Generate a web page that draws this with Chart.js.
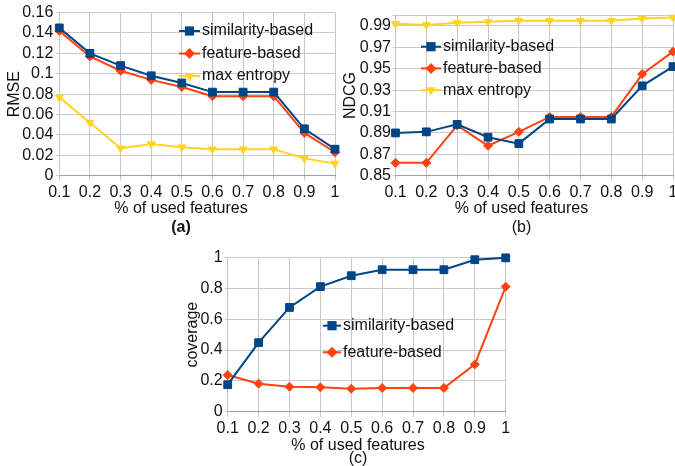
<!DOCTYPE html>
<html>
<head>
<meta charset="utf-8">
<script src="https://cdn.jsdelivr.net/npm/chart.js"></script>
<style>
html,body{margin:0;padding:0;background:#fff;}
body{width:675px;height:466px;overflow:hidden;position:relative;}
canvas{position:absolute;}
#chartA{left:0;top:0;}
#chartB{left:340px;top:0;}
#chartC{left:170px;top:240px;}
</style>
</head>
<body>
<canvas id="chartA" width="362" height="240"></canvas>
<canvas id="chartB" width="363" height="240"></canvas>
<canvas id="chartC" width="376" height="226"></canvas>
<script>
// ================= Data =================
const xLabels=['0.1','0.2','0.3','0.4','0.5','0.6','0.7','0.8','0.9','1'];

const rmseSimilarity=[0.145,0.120,0.108,0.098,0.091,0.082,0.082,0.082,0.046,0.026];
const rmseFeature=[0.142,0.117,0.103,0.094,0.087,0.078,0.078,0.078,0.042,0.023];
const rmseMaxEntropy=[0.077,0.052,0.027,0.031,0.028,0.026,0.026,0.026,0.017,0.012];
const rmseTicks=[0,0.02,0.04,0.06,0.08,0.1,0.12,0.14,0.16];

const ndcgSimilarity=[0.890,0.891,0.898,0.886,0.880,0.903,0.903,0.903,0.934,0.952];
const ndcgFeature=[0.862,0.862,0.897,0.878,0.891,0.905,0.905,0.905,0.945,0.966];
const ndcgMaxEntropy=[0.992,0.991,0.993,0.994,0.995,0.995,0.995,0.995,0.997,0.998];
const ndcgTicks=[0.85,0.87,0.89,0.91,0.93,0.95,0.97,0.99];
const ndcgMax=1.0;

const coverageSimilarity=[0.175,0.448,0.677,0.812,0.883,0.922,0.922,0.922,0.987,0.999];
const coverageFeature=[0.238,0.182,0.162,0.158,0.149,0.154,0.154,0.154,0.307,0.812];
const coverageTicks=[0,0.2,0.4,0.6,0.8,1];

// ================= Styles =================
const BLUE='#004586', ORANGE='#ff420e', YELLOW='#ffd320';
const GRID='#c8c8c8', AXIS='#a0a0a0', TEXT='#111';

Chart.defaults.font.family='"Liberation Sans", Arial, sans-serif';
Chart.defaults.font.size=16;
Chart.defaults.color=TEXT;

function series(label,data,color,style){
    const ds={label:label,data:data,borderColor:color,backgroundColor:color,borderWidth:2,
        pointBackgroundColor:color,pointBorderColor:color,pointBorderWidth:1,
        pointStyle:style,pointRadius:5,tension:0,clip:false};
    if(style==='rect') ds.pointRadius=5.5;
    if(style==='rectRot') ds.pointRadius=4.5;
    if(style==='triangle'){ ds.pointRadius=4.5; ds.pointRotation=180; }
    return ds;
}

// draw a marker like the dataset points (used by the legend)
function drawMark(ctx,style,x,y,r){
    ctx.beginPath();
    if(style==='rect'){ const s=r*Math.SQRT1_2; ctx.rect(x-s,y-s,2*s,2*s); }
    else if(style==='rectRot'){ ctx.moveTo(x,y-r); ctx.lineTo(x+r,y); ctx.lineTo(x,y+r); ctx.lineTo(x-r,y); ctx.closePath(); }
    else { const h=r*Math.sin(Math.PI/3); ctx.moveTo(x,y+r); ctx.lineTo(x+h,y-r/2); ctx.lineTo(x-h,y-r/2); ctx.closePath(); }
    ctx.fill();
}

// legend placed inside the plot, like the spreadsheet one
const boxLegend={
    id:'boxLegend',
    afterDatasetsDraw(chart,args,opts){
        const ctx=chart.ctx;
        ctx.save();
        chart.data.datasets.forEach((ds,i)=>{
            const y=opts.y+i*opts.dy;
            ctx.strokeStyle=ds.borderColor; ctx.lineWidth=ds.borderWidth;
            ctx.beginPath(); ctx.moveTo(opts.x,y); ctx.lineTo(opts.x+opts.len,y); ctx.stroke();
            ctx.fillStyle=ds.borderColor;
            drawMark(ctx,ds.pointStyle,opts.x+opts.len/2,y,ds.pointRadius+1);
            ctx.fillStyle=TEXT; ctx.font='16px "Liberation Sans", Arial, sans-serif';
            ctx.textBaseline='middle'; ctx.textAlign='left';
            ctx.fillText(ds.label,opts.x+opts.len+2,y);
        });
        ctx.restore();
    }
};

function fmt(v){ return String(+v.toFixed(4)); }

function makeChart(id,cfg){
    return new Chart(document.getElementById(id),{
        type:'line',
        data:{labels:xLabels,datasets:cfg.datasets},
        plugins:[boxLegend],
        options:{
            responsive:false,animation:false,devicePixelRatio:1,
            layout:{padding:{top:cfg.padTop,bottom:cfg.padBottom,left:0,right:0}},
            scales:{
                x:{type:'category',offset:false,
                    grid:{color:GRID,tickLength:5,tickColor:GRID},
                    border:{color:AXIS},
                    ticks:{padding:cfg.xPad,maxRotation:0,autoSkip:false},
                    afterFit:s=>{s.height=cfg.xHeight;}},
                y:{type:'linear',min:cfg.min,max:cfg.max,
                    grid:{color:GRID,tickLength:3,tickColor:GRID},
                    border:{color:GRID},
                    ticks:{padding:cfg.yPad,autoSkip:false,
                        callback:v=>cfg.ticks.some(t=>Math.abs(t-v)<1e-9)?fmt(v):''},
                    afterBuildTicks:s=>{
                        const t=cfg.ticks.slice();
                        if(t[t.length-1]<cfg.max) t.push(cfg.max);
                        s.ticks=t.map(v=>({value:v}));
                    },
                    title:{display:true,text:cfg.yTitle,padding:{top:cfg.yTitlePad,bottom:0}},
                    afterFit:s=>{s.width=cfg.yWidth;}},
                yR:{type:'linear',position:'right',display:true,
                    grid:{display:false,drawTicks:false},border:{display:false},ticks:{display:false},
                    afterFit:s=>{s.width=cfg.rightWidth;}}
            },
            plugins:{
                legend:{display:false},
                tooltip:{enabled:false},
                subtitle:{display:true,position:'bottom',text:'% of used features',color:TEXT,
                    font:{size:16,lineHeight:cfg.lh},padding:0},
                title:{display:true,position:'bottom',text:cfg.tag,color:TEXT,
                    font:{size:16,weight:cfg.tagWeight,lineHeight:cfg.lh},padding:0},
                boxLegend:cfg.legend
            }
        }
    });
}

// ================= (a) RMSE =================
makeChart('chartA',{
    datasets:[series('similarity-based',rmseSimilarity,BLUE,'rect'),
              series('feature-based',rmseFeature,ORANGE,'rectRot'),
              series('max entropy',rmseMaxEntropy,YELLOW,'triangle')],
    min:0,max:0.16,ticks:rmseTicks,yTitle:'RMSE',yTitlePad:5,yWidth:59.3,yPad:3,rightWidth:27,
    padTop:12.3,padBottom:2.9,xHeight:23,xPad:2,lh:1.2,tag:'(a)',tagWeight:'bold',
    legend:{x:179,y:31,dy:22.5,len:21}
});

// ================= (b) NDCG =================
makeChart('chartB',{
    datasets:[series('similarity-based',ndcgSimilarity,BLUE,'rect'),
              series('feature-based',ndcgFeature,ORANGE,'rectRot'),
              series('max entropy',ndcgMaxEntropy,YELLOW,'triangle')],
    min:0.85,max:ndcgMax,ticks:ndcgTicks,yTitle:'NDCG',yTitlePad:1.4,yWidth:55.5,yPad:1.5,rightWidth:30,
    padTop:15.3,padBottom:2.9,xHeight:23,xPad:2,lh:1.2,tag:'(b)',tagWeight:'normal',
    legend:{x:81,y:46.7,dy:21.7,len:20}
});

// ================= (c) coverage =================
makeChart('chartC',{
    datasets:[series('similarity-based',coverageSimilarity,BLUE,'rect'),
              series('feature-based',coverageFeature,ORANGE,'rectRot')],
    min:0,max:1,ticks:coverageTicks,yTitle:'coverage',yTitlePad:12.9,yWidth:57.7,yPad:2,rightWidth:40.3,
    padTop:17.7,padBottom:1.55,xHeight:28.15,xPad:2.5,lh:0.77,tag:'(c)',tagWeight:'normal',
    legend:{x:153,y:85.7,dy:26.6,len:18}
});
</script>
</body>
</html>
